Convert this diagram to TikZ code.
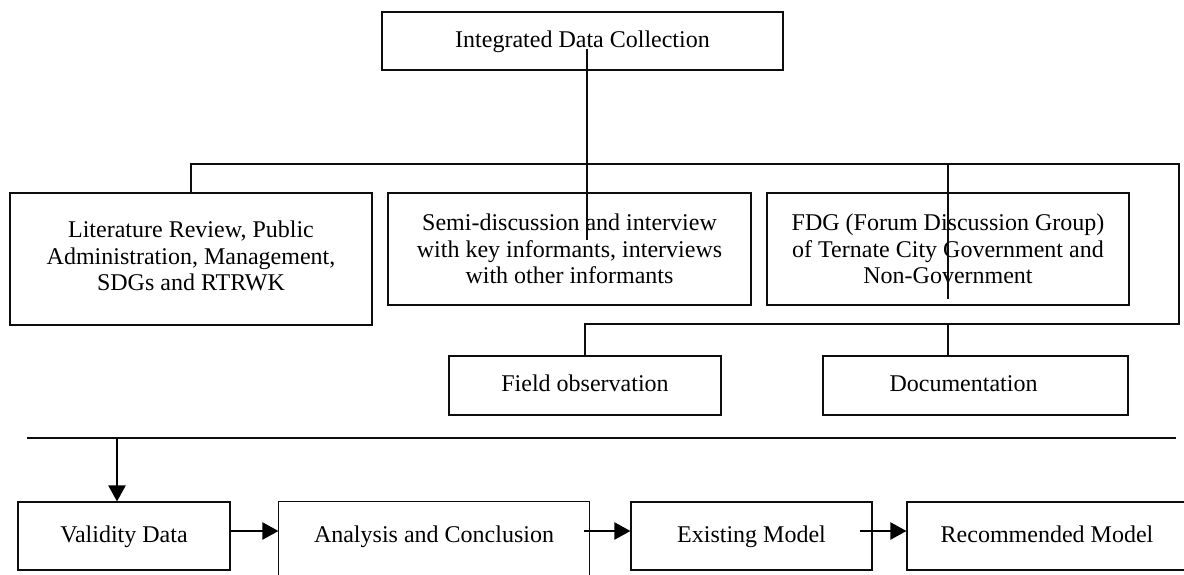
\documentclass[tikz,border=0pt]{standalone}
\usepackage{fontspec}
\setmainfont{Liberation Serif}
\usetikzlibrary{arrows.meta}

\begin{document}
\begin{tikzpicture}[x=0.5pt, y=-0.5pt]

  % ---- frame ----
  \useasboundingbox (0,0) rectangle (1184,574);

  \definecolor{FlowLine}{gray}{0.05}
  \tikzset{
    flowbox/.style={draw=FlowLine, line width=0.55pt, inner sep=0pt, align=center,
      font=\fontsize{12}{13.3}\selectfont},
    oneline/.style={text height=9pt, text depth=3pt},
    link/.style={draw=FlowLine, line width=0.55pt},
    flowarrow/.style={draw=black, line width=1.1pt, -{Triangle[length=8pt, width=8.5pt]}}
  }

  % ---- top box ----
  \node[flowbox, oneline, minimum width=200.5pt, minimum height=29pt] (collect) at (582.5,41) {Integrated Data Collection};

  % ---- source boxes ----
  \node[flowbox, minimum width=181pt, minimum height=66pt] (lit) at (191,259)
    {\raisebox{3pt}{\begin{tabular}{@{}c@{}}Literature Review, Public\\Administration, Management,\\SDGs and RTRWK\end{tabular}}};
  \node[flowbox, minimum width=181.5pt, minimum height=56pt] (semi) at (569.5,249)
    {Semi-discussion and interview\\with key informants, interviews\\with other informants};
  \node[flowbox, minimum width=181pt, minimum height=56pt] (fdg) at (948,249)
    {FDG (Forum Discussion Group)\\of Ternate City Government and\\Non-Government};

  \node[flowbox, oneline, minimum width=136pt, minimum height=29.5pt] (field) at (585,385.5) {Field observation};
  \node[flowbox, oneline, minimum width=152.5pt, minimum height=29.5pt] (doc) at (975.5,385.5) {Documentation\hspace*{12pt}};

  % ---- bus lines ----
  \coordinate (dropTop) at (587,49);
  \coordinate (dropEnd) at (587,240);
  \coordinate (busNE) at (1179,164);
  \coordinate (busSE) at (1179,324);

  \draw[link] (dropTop) -- (dropEnd);
  \draw[link] (lit.north) -- (lit.north |- busNE) -- (busNE) -- (busSE)
    -- (field.north |- busSE) -- (field.north);
  \draw[link] (fdg.north |- busNE) -- ([yshift=3.5pt]fdg.south);
  \draw[link] (fdg.south |- busSE) -- (fdg.south |- doc.north);

  % ---- separator ----
  \coordinate (sepL) at (27,438);
  \coordinate (sepR) at (1176,438);
  \coordinate (sepDrop) at (117,438);
  \coordinate (pageFoot) at (0,600);
  \draw[link] (sepL) -- (sepR);

  % ---- bottom row ----
  \node[flowbox, oneline, minimum width=106pt, minimum height=34pt] (valid) at (124,536) {Validity Data};
  \node[flowbox, oneline, draw=none, minimum width=155pt, minimum height=34pt] (ana) at (434,536) {Analysis and Conclusion};
  \draw[link] (ana.west |- pageFoot) -- (ana.north west) -- (ana.north east) -- (ana.east |- pageFoot);
  \node[flowbox, oneline, minimum width=120.5pt, minimum height=34pt] (exist) at (751.5,536) {Existing Model};
  \node[flowbox, oneline, minimum width=140pt, minimum height=34pt] (recom) at (1047,536) {Recommended Model};

  % ---- arrows ----
  \draw[flowarrow] (sepDrop) -- (sepDrop |- valid.north);
  \draw[flowarrow] ([yshift=2.5pt]valid.east) -- ([yshift=2.5pt]valid.east -| ana.west);
  \draw[flowarrow] ([xshift=-3pt, yshift=2.5pt]ana.east) -- ([yshift=2.5pt]exist.west);
  \draw[flowarrow] ([xshift=-6.5pt, yshift=2.5pt]exist.east) -- ([yshift=2.5pt]recom.west);

\end{tikzpicture}
\end{document}
